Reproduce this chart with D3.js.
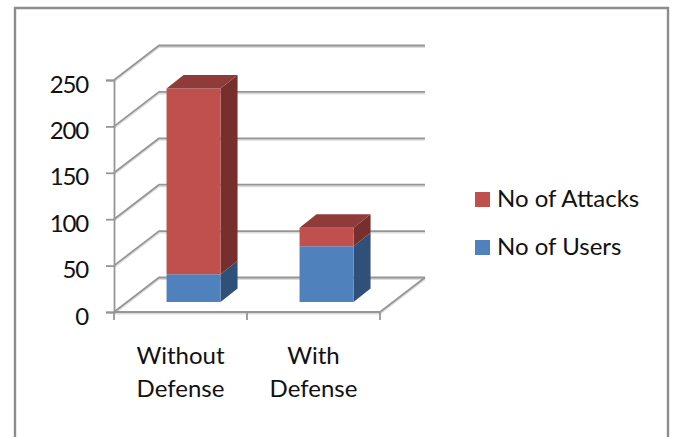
<!DOCTYPE html>
<html>
<head>
<meta charset="utf-8">
<script src="https://cdn.jsdelivr.net/npm/d3@7"></script>
<style>
html,body{margin:0;padding:0;background:#fff}
svg{display:block}
text{font-family:Lato,sans-serif;fill:#111}
</style>
</head>
<body>
<svg id="chart" width="675" height="437"></svg>
<script>
const categories = ["Without Defense", "With Defense"];
const users = [30, 60];
const attacks = [200, 20];
const yTicks = [0, 50, 100, 150, 200, 250];
const legendItems = ["No of Attacks", "No of Users"];
const colors = {
  attacks: { front: "#c0504d", top: "#8f3b39", side: "#762f2d" },
  users: { front: "#4f81bd", side: "#2f5079" }
};

const svg = d3.select("#chart");
const width = 675, height = 437;
const gridColor = "#969696", gridShade = "#dcdcdc";
const fontSize = 24;

// Chart frame: open at the bottom edge
const frame = d3.path();
frame.moveTo(15, height);
frame.lineTo(15, 8);
frame.lineTo(668, 8);
frame.lineTo(668, height);
svg.append("path").attr("d", frame.toString()).attr("fill", "none")
  .attr("stroke", "#8c8c8c").attr("stroke-width", 2.4);

// Scales for the front plane of the 3-D box
const y = d3.scaleLinear().domain([0, 250]).range([312, 80]);
const x = d3.scaleBand().domain(categories).range([114, 380]);
const wall = { dx: 45, dy: -34.5 };      // depth of the whole plot box
const inset = 0.29;                      // how far into the box a bar begins
const barDepth = { dx: 17, dy: -13.5 };  // depth of a bar
const barWidth = 54;

// Wall and floor lines, each with a soft shade beneath it
function polyline(points, stroke, w, shift) {
  svg.append("polyline")
    .attr("points", points.map(p => [p[0], p[1] + shift].join(",")).join(" "))
    .attr("fill", "none").attr("stroke", stroke).attr("stroke-width", w)
    .attr("stroke-linejoin", "round");
}
const gridPoints = yTicks.map(t => {
  const yy = y(t);
  return [[114, yy], [114 + wall.dx, yy + wall.dy], [425, yy + wall.dy]];
});
const floor = [[380, y(0)], [425, y(0) + wall.dy]];
const floorFront = [[114, y(0)], [380, y(0)]];
gridPoints.forEach(p => polyline(p, gridShade, 2, 1.5));
polyline(floor, gridShade, 2, 1.5);
polyline(floorFront, gridShade, 2, 1.5);
gridPoints.forEach(p => polyline(p, gridColor, 1.8, 0));
polyline(floor, gridColor, 1.8, 0);
polyline(floorFront, gridColor, 1.8, 0);

// Axes
const axisLeft = d3.axisLeft(y).tickValues(yTicks).tickSize(8).tickPadding(18);
const gy = svg.append("g").attr("transform", "translate(114,0)").call(axisLeft);
gy.select(".domain").attr("stroke", gridColor).attr("stroke-width", 1.8);
gy.selectAll(".tick line").attr("stroke", gridColor).attr("stroke-width", 1.8);
gy.selectAll(".tick text")
  .attr("font-size", fontSize)
  .attr("font-family", "Lato,sans-serif")
  .attr("letter-spacing", "-1.2px")
  .attr("dy", "0.5em")
  .attr("fill", "#111");

// Category tick marks sit on the band edges
const edges = categories.map(c => x(c)).concat([x.range()[1]]);
svg.selectAll(".xtick").data(edges).join("line").attr("class", "xtick")
  .attr("x1", d => d).attr("x2", d => d).attr("y1", y(0)).attr("y2", y(0) + 8)
  .attr("stroke", gridColor).attr("stroke-width", 1.8);

// Stacked 3-D bars
const base = inset * wall.dy;
function poly(pts, fill) {
  svg.append("polygon").attr("points", pts.map(p => p.join(",")).join(" ")).attr("fill", fill);
}
categories.forEach((c, i) => {
  const x0 = x(c) + x.bandwidth() / 2 - barWidth / 2 + inset * wall.dx;
  const x1 = x0 + barWidth;
  const yBase = y(0) + base;
  const yUser = y(users[i]) + base;
  const yTop = y(users[i] + attacks[i]) + base;
  const d = barDepth;
  poly([[x1, yBase], [x1 + d.dx, yBase + d.dy], [x1 + d.dx, yUser + d.dy], [x1, yUser]], colors.users.side);
  poly([[x0, yBase], [x1, yBase], [x1, yUser], [x0, yUser]], colors.users.front);
  poly([[x1, yUser], [x1 + d.dx, yUser + d.dy], [x1 + d.dx, yTop + d.dy], [x1, yTop]], colors.attacks.side);
  poly([[x0, yUser], [x1, yUser], [x1, yTop], [x0, yTop]], colors.attacks.front);
  poly([[x0, yTop], [x1, yTop], [x1 + d.dx, yTop + d.dy], [x0 + d.dx, yTop + d.dy]], colors.attacks.top);
});

// Two-line category labels
categories.forEach(c => {
  const cx = x(c) + x.bandwidth() / 2;
  const lines = c.split(" ");
  const label = svg.append("text").attr("text-anchor", "middle").attr("font-size", fontSize);
  lines.forEach((w, k) => label.append("tspan").attr("x", cx).attr("y", 364 + k * 33).text(w));
});

// Legend
const swatch = [colors.attacks.front, colors.users.front];
legendItems.forEach((name, i) => {
  const ly = 192 + i * 48;
  svg.append("rect").attr("x", 475).attr("y", ly).attr("width", 15).attr("height", 15).attr("fill", swatch[i]);
  svg.append("text").attr("x", 497).attr("y", ly + 15).attr("font-size", fontSize).text(name);
});
</script>
</body>
</html>
